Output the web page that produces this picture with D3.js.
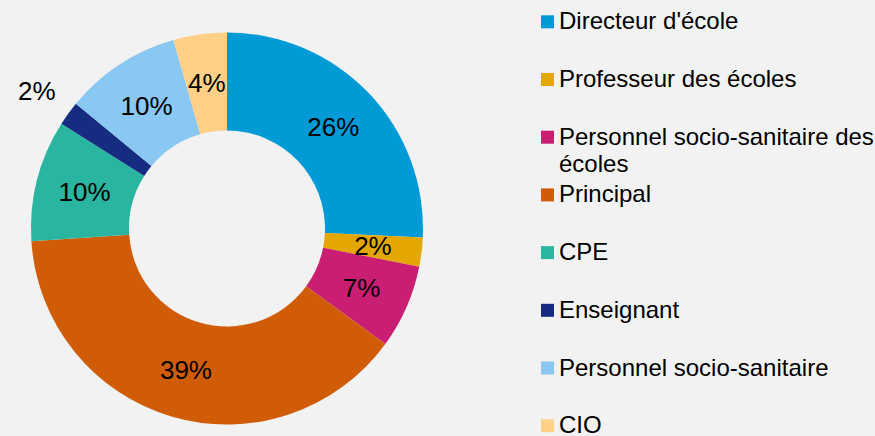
<!DOCTYPE html>
<html>
<head>
<meta charset="utf-8">
<script src="https://cdn.jsdelivr.net/npm/d3@7"></script>
<style>
  html, body { margin: 0; padding: 0; background: #F2F2F2; }
  svg { display: block; }
  text { font-family: "Liberation Sans", Arial, sans-serif; fill: #000; }
</style>
</head>
<body>
<svg id="chart" width="875" height="436"></svg>
<script>
const categories = [
  "Directeur d'école",
  "Professeur des écoles",
  "Personnel socio-sanitaire des écoles",
  "Principal",
  "CPE",
  "Enseignant",
  "Personnel socio-sanitaire",
  "CIO"
];
const values = [25.7, 2.4, 6.9, 38.9, 10.0, 2.0, 9.6, 4.4];
const colors = ["#009BD6", "#E3A700", "#C91E72", "#D15C07", "#29B59F", "#152C80", "#88C8F3", "#FFD088"];
const legendLines = [
  ["Directeur d'école"],
  ["Professeur des écoles"],
  ["Personnel socio-sanitaire des", "écoles"],
  ["Principal"],
  ["CPE"],
  ["Enseignant"],
  ["Personnel socio-sanitaire"],
  ["CIO"]
];

const svg = d3.select("#chart");
const W = 875, H = 436;
svg.append("rect").attr("width", W).attr("height", H).attr("fill", "#F2F2F2");

const cx = 227, cy = 228.5, R = 196, r = 98;
const total = d3.sum(values);
const data = categories.map((c, i) => ({ name: c, value: values[i], color: colors[i], idx: i }));

const pie = d3.pie().value(d => d.value).sort(null).startAngle(0).endAngle(2 * Math.PI);
const arc = d3.arc().innerRadius(r).outerRadius(R);
const labelArc = d3.arc().innerRadius((R + r) / 2).outerRadius((R + r) / 2);
const outerLabelArc = d3.arc().innerRadius(235).outerRadius(235);

const g = svg.append("g").attr("transform", `translate(${cx},${cy})`);
const arcs = pie(data);

g.selectAll("path.slice")
  .data(arcs)
  .join("path")
  .attr("class", "slice")
  .attr("d", arc)
  .attr("fill", d => d.data.color);

const fmt = v => Math.round(v / total * 100) + "%";
g.selectAll("text.lbl")
  .data(arcs)
  .join("text")
  .attr("class", "lbl")
  .attr("transform", d => {
    const p = (d.data.value <= 2.0 ? outerLabelArc : labelArc).centroid(d);
    return `translate(${p[0]},${p[1]})`;
  })
  .attr("text-anchor", "middle")
  .attr("dy", "0.35em")
  .style("font-size", "26px")
  .text(d => fmt(d.data.value));

// Legend
const legX = 541, legTextX = 559, legY0 = 29.3, legStep = 57.7, lineH = 27;
const leg = svg.append("g");
const items = leg.selectAll("g.item")
  .data(data)
  .join("g")
  .attr("class", "item")
  .attr("transform", (d, i) => `translate(0,${legY0 + i * legStep})`);

items.append("rect")
  .attr("x", legX)
  .attr("y", -14)
  .attr("width", 13)
  .attr("height", 13)
  .attr("fill", d => d.color);

items.append("text")
  .attr("x", legTextX)
  .attr("y", 0)
  .style("font-size", "24px")
  .each(function(d, i) {
    const t = d3.select(this);
    legendLines[i].forEach((ln, k) => {
      t.append("tspan").attr("x", legTextX).attr("y", k * lineH).text(ln);
    });
  });
</script>
</body>
</html>
